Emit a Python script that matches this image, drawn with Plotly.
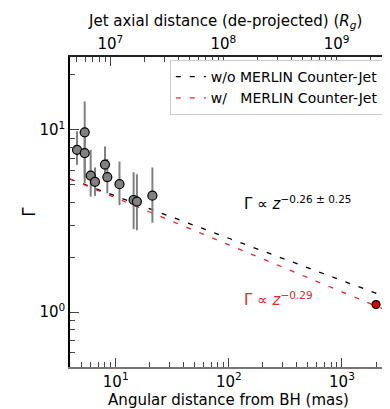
import plotly.graph_objects as go

# VLBI jet components: angular distance (mas) vs bulk Lorentz factor
dist_mas = [4.55, 5.32, 5.32, 6.01, 6.56, 8.04, 8.43, 10.8, 14.4, 15.4, 21.1]
gamma = [7.76, 9.68, 7.45, 5.61, 5.18, 6.44, 5.50, 5.03, 4.12, 4.04, 4.35]
gamma_err_up = [2.04, 4.62, 2.0, 2.15, 1.03, 1.67, 1.42, 1.67, 1.73, 1.66, 1.86]
gamma_err_down = [1.34, 4.60, 2.0, 1.31, 0.84, 1.24, 1.02, 1.17, 1.27, 1.23, 1.26]

# MERLIN counter-jet point
merlin_mas = [2000]
merlin_gamma = [1.10]

# power-law fits (end points)
fit_x = [3.94, 2500]
fit_wo_y = [5.37, 1.205]
fit_w_y = [5.38, 1.02]

# axis ticks
x_major = [10, 100, 1000]
x_major_text = ["10<sup>1</sup>", "10<sup>2</sup>", "10<sup>3</sup>"]
top_major = [1e7, 1e8, 1e9]
top_major_text = ["10<sup>7</sup>", "10<sup>8</sup>", "10<sup>9</sup>"]
y_major = [1, 10]
y_major_text = ["10<sup>0</sup>", "10<sup>1</sup>"]
mult = [2, 3, 4, 5, 6, 7, 8, 9]

x_range = [0.596, 3.398]
rg_shift = 6.048  # log10(Rg per mas)
y_range = [-0.301, 1.399]

FONT = "DejaVu Sans"
tick_col = "#444444"

fig = go.Figure()

fig.add_trace(go.Scatter(
    x=fit_x, y=fit_wo_y, mode='lines', name='w/o MERLIN Counter-Jet',
    line=dict(width=1.3, color='black', dash='5px,9px')
))
fig.add_trace(go.Scatter(
    x=fit_x, y=fit_w_y, mode='lines',
    name='w/\u00a0\u00a0\u00a0MERLIN Counter-Jet',
    line=dict(width=1.3, color='#e8262a', dash='5px,9px')
))
fig.add_trace(go.Scatter(
    x=dist_mas, y=gamma, mode='markers', showlegend=False,
    marker=dict(size=9, color='#808080', line=dict(width=1.2, color='black')),
    error_y=dict(type='data', array=gamma_err_up, arrayminus=gamma_err_down,
                 color='#808080', thickness=2, width=0)
))
fig.add_trace(go.Scatter(
    x=merlin_mas, y=merlin_gamma, mode='markers', showlegend=False,
    marker=dict(size=8, color='#e00000', line=dict(width=1.2, color='black'))
))
# dummy trace so the top axis is created
fig.add_trace(go.Scatter(
    x=[1e8], y=[None], xaxis='x2', showlegend=False, hoverinfo='skip'
))

fig.add_annotation(
    x=2.12, y=0.600, xref='x', yref='y', xanchor='left', yanchor='middle',
    text="Γ ∝ <i>z</i><sup>−0.26 ± 0.25</sup>", showarrow=False,
    font=dict(family=FONT, size=15, color='black')
)
fig.add_annotation(
    x=2.12, y=0.072, xref='x', yref='y', xanchor='left', yanchor='middle',
    text="Γ ∝ <i>z</i><sup>−0.29</sup>", showarrow=False,
    font=dict(family=FONT, size=15, color='#e8262a')
)
# top axis title
fig.add_annotation(
    x=0.49, y=1.113, xref='paper', yref='paper', xanchor='center', yanchor='middle',
    text="Jet axial distance (de-projected) (<i>R<sub>g</sub></i>)", showarrow=False,
    font=dict(family=FONT, size=15, color='black')
)

# right spine
fig.add_shape(type='line', xref='paper', yref='paper', x0=1, x1=1, y0=0, y1=1,
              line=dict(color='#777777', width=1.5))

minor_x = [m * 10 ** e for e in range(0, 4) for m in mult]
minor_top = [m * 10 ** e for e in range(6, 10) for m in mult]
minor_y = [m * 10 ** e for e in range(-1, 2) for m in mult]

fig.update_layout(
    width=390, height=409,
    margin=dict(l=62, r=11, t=49, b=50),
    plot_bgcolor='white', paper_bgcolor='white',
    font=dict(family=FONT, size=15, color='black'),
    xaxis=dict(
        type='log', range=x_range, showgrid=False, zeroline=False,
        automargin=False,
        showline=True, linecolor='#777777', linewidth=1.5,
        ticks='inside', ticklen=9, tickcolor=tick_col,
        tickmode='array', tickvals=x_major, ticktext=x_major_text,
        minor=dict(tickmode='array', tickvals=minor_x, ticks='inside',
                   ticklen=5, tickcolor=tick_col),
        title=dict(text='Angular distance from BH (mas)', standoff=2,
                   font=dict(size=15)),
    ),
    xaxis2=dict(
        type='log', range=[x_range[0] + rg_shift, x_range[1] + rg_shift],
        overlaying='x', side='top', anchor='y', showgrid=False, zeroline=False,
        automargin=False,
        showline=True, linecolor='#222222', linewidth=1.5,
        ticks='inside', ticklen=9, tickcolor=tick_col,
        tickmode='array', tickvals=top_major, ticktext=top_major_text,
        minor=dict(tickmode='array', tickvals=minor_top, ticks='inside',
                   ticklen=5, tickcolor=tick_col),
    ),
    yaxis=dict(
        type='log', range=y_range, showgrid=False, zeroline=False,
        automargin=False,
        showline=True, linecolor='black', linewidth=1.5,
        ticks='inside', ticklen=9, tickcolor=tick_col,
        tickmode='array', tickvals=y_major, ticktext=y_major_text,
        minor=dict(tickmode='array', tickvals=minor_y, ticks='inside',
                   ticklen=5, tickcolor=tick_col),
        title=dict(text='Γ', standoff=0, font=dict(size=17)),
    ),
    legend=dict(
        x=0.99, y=0.99, xanchor='right', yanchor='top',
        bgcolor='white', bordercolor='#cccccc', borderwidth=1,
        font=dict(size=14), tracegroupgap=0,
    ),
)

fig.write_html("out.html")
